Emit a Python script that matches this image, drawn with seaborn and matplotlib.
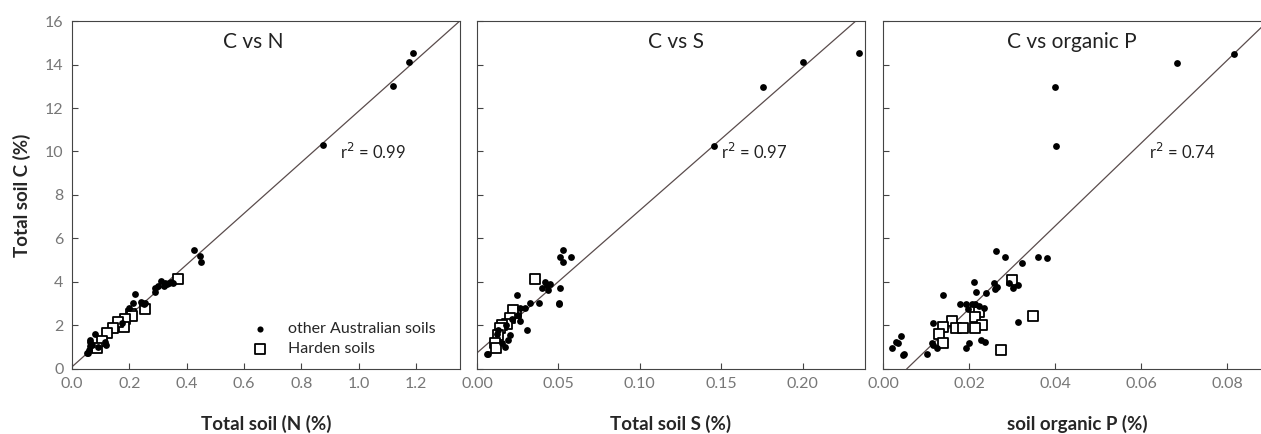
import numpy as np
import matplotlib
matplotlib.use('Agg')
import matplotlib.pyplot as plt
import seaborn as sns

# C vs N
n_dots_x = [1.191, 1.175, 1.121, 0.875, 0.426, 0.447, 0.449, 0.312, 0.323, 0.337, 0.351, 0.291, 0.289, 0.300,
            0.219, 0.213, 0.244, 0.256, 0.198, 0.175, 0.080, 0.064, 0.064, 0.058, 0.052, 0.055, 0.116, 0.120,
            0.090, 0.240, 0.250, 0.330, 0.345, 0.320, 0.062, 0.070]
n_dots_y = [14.51, 14.11, 13.01, 10.30, 5.47, 5.20, 4.93, 4.06, 3.94, 3.97, 3.97, 3.74, 3.55, 3.80,
            3.43, 3.05, 3.05, 3.05, 2.79, 2.13, 1.60, 1.26, 1.06, 0.87, 0.72, 0.75, 1.26, 1.10,
            1.00, 3.10, 3.00, 3.90, 4.00, 3.80, 1.35, 1.10]
n_sq_x = [0.370, 0.255, 0.207, 0.210, 0.186, 0.180, 0.162, 0.144, 0.121, 0.103, 0.087]
n_sq_y = [4.15, 2.75, 2.55, 2.45, 2.30, 1.95, 2.15, 1.90, 1.65, 1.28, 0.97]

# C vs S
s_dots_x = [0.2346, 0.1999, 0.1758, 0.1458, 0.0529, 0.0508, 0.0576, 0.0529, 0.0416, 0.0427, 0.0396, 0.0437,
            0.0447, 0.0508, 0.0247, 0.0325, 0.0382, 0.0502, 0.0294, 0.0263, 0.0263, 0.0304, 0.0202, 0.0192,
            0.0171, 0.0151, 0.0069, 0.0060, 0.0125, 0.0130, 0.0250, 0.0180, 0.0215, 0.0505]
s_dots_y = [14.51, 14.10, 12.97, 10.27, 5.47, 5.16, 5.14, 4.90, 4.01, 3.86, 3.71, 3.63,
            3.90, 3.74, 3.40, 3.02, 3.02, 2.97, 2.79, 2.79, 2.22, 1.79, 1.56, 1.33,
            1.03, 1.18, 0.69, 0.69, 1.60, 1.80, 2.50, 2.00, 2.30, 3.02]
s_sq_x = [0.0355, 0.0239, 0.0222, 0.0202, 0.0182, 0.0151, 0.0141, 0.0130, 0.0110, 0.0116]
s_sq_y = [4.12, 2.56, 2.71, 2.33, 2.07, 2.02, 1.87, 1.56, 1.21, 0.95]

# C vs organic P
p_dots_x = [0.0815, 0.0683, 0.0400, 0.0402, 0.0263, 0.0284, 0.0360, 0.0381, 0.0324, 0.0212, 0.0259, 0.0260,
            0.0266, 0.0293, 0.0302, 0.0313, 0.0216, 0.0240, 0.0140, 0.0179, 0.0193, 0.0207, 0.0214, 0.0223,
            0.0197, 0.0236, 0.0116, 0.0314, 0.0113, 0.0117, 0.0125, 0.0102, 0.0193, 0.0201, 0.0229, 0.0237,
            0.0020, 0.0030, 0.0036, 0.0043, 0.0046, 0.0048]
p_dots_y = [14.48, 14.08, 12.95, 10.27, 5.44, 5.15, 5.16, 5.10, 4.87, 4.01, 3.94, 3.66,
            3.76, 3.94, 3.71, 3.85, 3.55, 3.51, 3.39, 3.00, 3.00, 3.00, 3.00, 2.90,
            2.77, 2.79, 2.13, 2.15, 1.18, 1.10, 0.95, 0.69, 0.95, 1.18, 1.33, 1.26,
            0.95, 1.26, 1.18, 1.53, 0.64, 0.70]
p_sq_x = [0.0299, 0.0348, 0.0223, 0.0214, 0.0231, 0.0214, 0.0160, 0.0140, 0.0169, 0.0187, 0.0130, 0.0140, 0.0274]
p_sq_y = [4.09, 2.45, 2.64, 2.40, 2.02, 1.87, 2.22, 1.95, 1.87, 1.87, 1.61, 1.21, 0.87]

# regression lines (intercept, slope) and r2
fits = [(0.10, 11.75), (0.74, 65.6), (-1.05, 190.5)]
r2 = ['0.99', '0.97', '0.74']
r2_pos = [(0.935, 10.0), (0.150, 10.0), (0.0618, 10.0)]

titles = ['C vs N', 'C vs S', 'C vs organic P']
xlabels = ['Total soil (N (%)', 'Total soil S (%)', 'soil organic P (%)']
xlims = [(0, 1.354), (0, 0.2383), (0, 0.0902)]
xticks = [np.arange(0, 1.21, 0.2), np.arange(0, 0.201, 0.05), np.arange(0, 0.081, 0.02)]
xfmt = ['{:.1f}', '{:.2f}', '{:.2f}']
title_x = [0.467, 0.514, 0.487]

sns.set_style('ticks')
plt.rcParams['font.family'] = ['Lato', 'DejaVu Sans']
plt.rcParams['xtick.direction'] = 'in'
plt.rcParams['ytick.direction'] = 'in'

fig = plt.figure(figsize=(12.61, 4.34), dpi=100)
lefts = [0.0571, 0.3783, 0.7002]
panels = [(n_dots_x, n_dots_y, n_sq_x, n_sq_y),
          (s_dots_x, s_dots_y, s_sq_x, s_sq_y),
          (p_dots_x, p_dots_y, p_sq_x, p_sq_y)]

for i in range(3):
    ax = fig.add_axes([lefts[i], 0.1498, 0.3077, 0.8018])
    dx, dy, qx, qy = panels[i]
    b, m = fits[i]
    ax.axline((0, b), slope=m, color='#5a4c4c', lw=0.9, zorder=1)
    sns.scatterplot(x=dx, y=dy, ax=ax, marker='o', color='black', s=24, linewidth=0,
                    label='other Australian soils', zorder=3)
    sns.scatterplot(x=qx, y=qy, ax=ax, marker='s', facecolor='white', edgecolor='black', s=55,
                    linewidth=1.3, label='Harden soils', zorder=2)
    ax.set_xlim(xlims[i])
    ax.set_ylim(0, 16)
    ax.set_xticks(xticks[i])
    ax.set_xticklabels([xfmt[i].format(v) for v in xticks[i]])
    ax.set_yticks(range(0, 17, 2))
    if i == 0:
        ax.set_ylabel('Total soil C (%)', fontsize=13.5, fontweight='bold', labelpad=10)
        leg = ax.legend(loc='lower right', bbox_to_anchor=(0.975, -0.005), frameon=False, fontsize=11.5,
                        handletextpad=0.8, labelspacing=0.4, markerscale=0.9)
    else:
        ax.set_yticklabels([])
        ax.legend().remove()
    ax.set_xlabel(xlabels[i], fontsize=13.5, fontweight='bold', labelpad=17)
    ax.tick_params(axis='both', labelsize=11.5, labelcolor='#777777', color='#444444', length=4, width=0.8,
                   pad=6)
    for sp in ax.spines.values():
        sp.set_color('#444444')
        sp.set_linewidth(0.8)
    ax.text(title_x[i], 0.94, titles[i], transform=ax.transAxes, ha='center', va='center', fontsize=15,
            color='#222222', bbox=dict(facecolor='white', edgecolor='none', pad=1))
    ax.text(r2_pos[i][0], r2_pos[i][1], 'r$^2$ = ' + r2[i], ha='left', va='center', fontsize=12,
            color='#222222')

plt.savefig('out.png', dpi=100)
